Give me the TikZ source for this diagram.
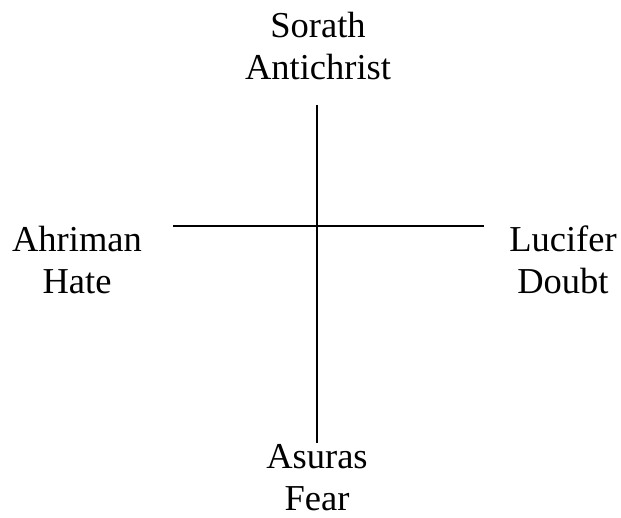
\documentclass[tikz,border=0pt]{standalone}
\usepackage{fontspec}
\setmainfont{Liberation Serif}
\usetikzlibrary{positioning}

\begin{document}
\begin{tikzpicture}[
  x=1pt, y=1pt,
  font=\fontsize{36.5}{42}\selectfont,
  spirit/.style={align=center, inner sep=0pt, anchor=base},
  axis/.style={line width=1.5pt, black}
]
\useasboundingbox (0,0) rectangle (621,-518);
% names round the cross
\node[spirit] (sorath)  at (318,-80)  {Sorath\\Antichrist};
\node[spirit] (ahriman) at (77,-294)  {Ahriman\\Hate};
\node[spirit] (lucifer) at (563,-294) {Lucifer\\Doubt};
\node[spirit] (asuras)  at (317,-510) {Asuras\\Fear};

% ends of the two bars
\coordinate (top)    at (317,-105);
\coordinate (bottom) at (317,-443);
\coordinate (left)   at (173,-226);
\coordinate (right)  at (484,-226);

\draw[axis] (top) -- (bottom);
\draw[axis] (left) -- (right);
\end{tikzpicture}
\end{document}
